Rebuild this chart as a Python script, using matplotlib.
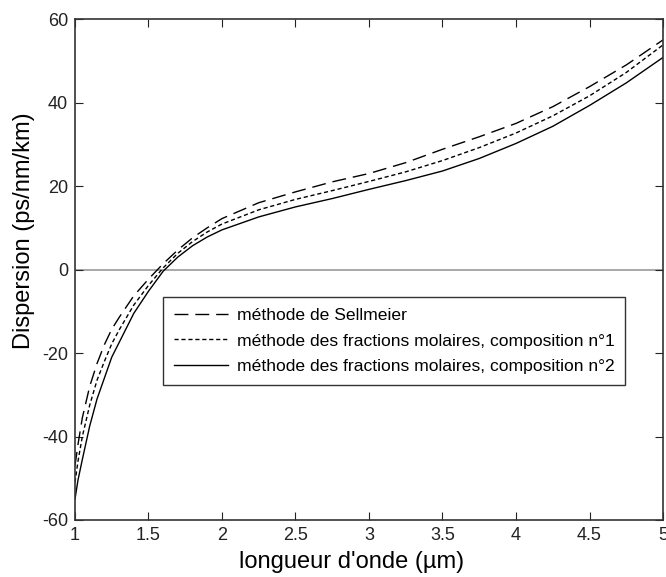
import numpy as np
import matplotlib.pyplot as plt

# longueur d'onde (µm)
wl = [1.0, 1.02, 1.05, 1.1, 1.15, 1.2, 1.25, 1.3, 1.4, 1.5, 1.6, 1.7, 1.8, 1.9,
      2.0, 2.25, 2.5, 2.75, 3.0, 3.25, 3.5, 3.75, 4.0, 4.25, 4.5, 4.75, 5.0]

# dispersion (ps/nm/km)
sellmeier = [-47, -42, -35.5, -28, -22.5, -18, -14.3, -11.5, -6.3, -2.3, 1.4, 4.7,
             7.6, 10, 12.2, 16, 18.6, 21, 23, 25.6, 28.8, 31.8, 35, 39, 43.8, 49, 55]
compo1 = [-51, -46, -40, -32.5, -26.5, -22, -17.8, -14.5, -8.5, -3.8, 0.4, 3.9,
          6.7, 9, 10.9, 14.3, 16.8, 18.9, 21.1, 23.4, 26.1, 29.2, 32.7, 36.8, 41.6,
          47.2, 53.8]
compo2 = [-55, -50.5, -45.5, -37.5, -31, -26, -21, -17.5, -10.5, -5.2, -0.4, 3,
          5.7, 7.8, 9.5, 12.6, 15, 17, 19.2, 21.3, 23.6, 26.6, 30.2, 34.3, 39.3,
          44.7, 50.8]

plt.rcParams['font.family'] = ['Liberation Sans', 'DejaVu Sans']
plt.rcParams['axes.unicode_minus'] = False

fig = plt.figure(figsize=(6.66, 5.77), dpi=100)
ax = fig.add_axes([0.1126, 0.0988, 0.8829, 0.8682])

ax.axhline(0, color='#999999', lw=1.2, zorder=1)
ax.plot(wl, sellmeier, color='black', lw=1, dashes=(10, 5), label='méthode de Sellmeier')
ax.plot(wl, compo1, color='black', lw=1, dashes=(3, 2),
        label='méthode des fractions molaires, composition n°1')
ax.plot(wl, compo2, color='black', lw=1,
        label='méthode des fractions molaires, composition n°2')

ax.set_xlim(1, 5)
ax.set_ylim(-60, 60)
ax.set_xticks([1, 1.5, 2, 2.5, 3, 3.5, 4, 4.5, 5])
ax.set_xticklabels(['1', '1.5', '2', '2.5', '3', '3.5', '4', '4.5', '5'])
ax.set_yticks(np.arange(-60, 61, 20))
ax.tick_params(direction='in', top=True, right=True, length=6, labelsize=13,
               colors='#222222', pad=5)
for s in ax.spines.values():
    s.set_color('#333333')
    s.set_linewidth(1.2)

ax.set_xlabel("longueur d'onde (µm)", fontsize=17)
ax.set_ylabel('Dispersion (ps/nm/km)', fontsize=17)
ax.xaxis.set_label_coords(0.471, -0.062)
ax.yaxis.set_label_coords(-0.068, 0.577)

leg = ax.legend(loc='upper left', bbox_to_anchor=(0.1497, 0.445), borderaxespad=0,
                fontsize=12.6, frameon=True, fancybox=False, edgecolor='black',
                handlelength=3.1, borderpad=0.62, labelspacing=0.58, handletextpad=0.5)
leg.get_frame().set_linewidth(1)

plt.savefig('out.png', dpi=100)
